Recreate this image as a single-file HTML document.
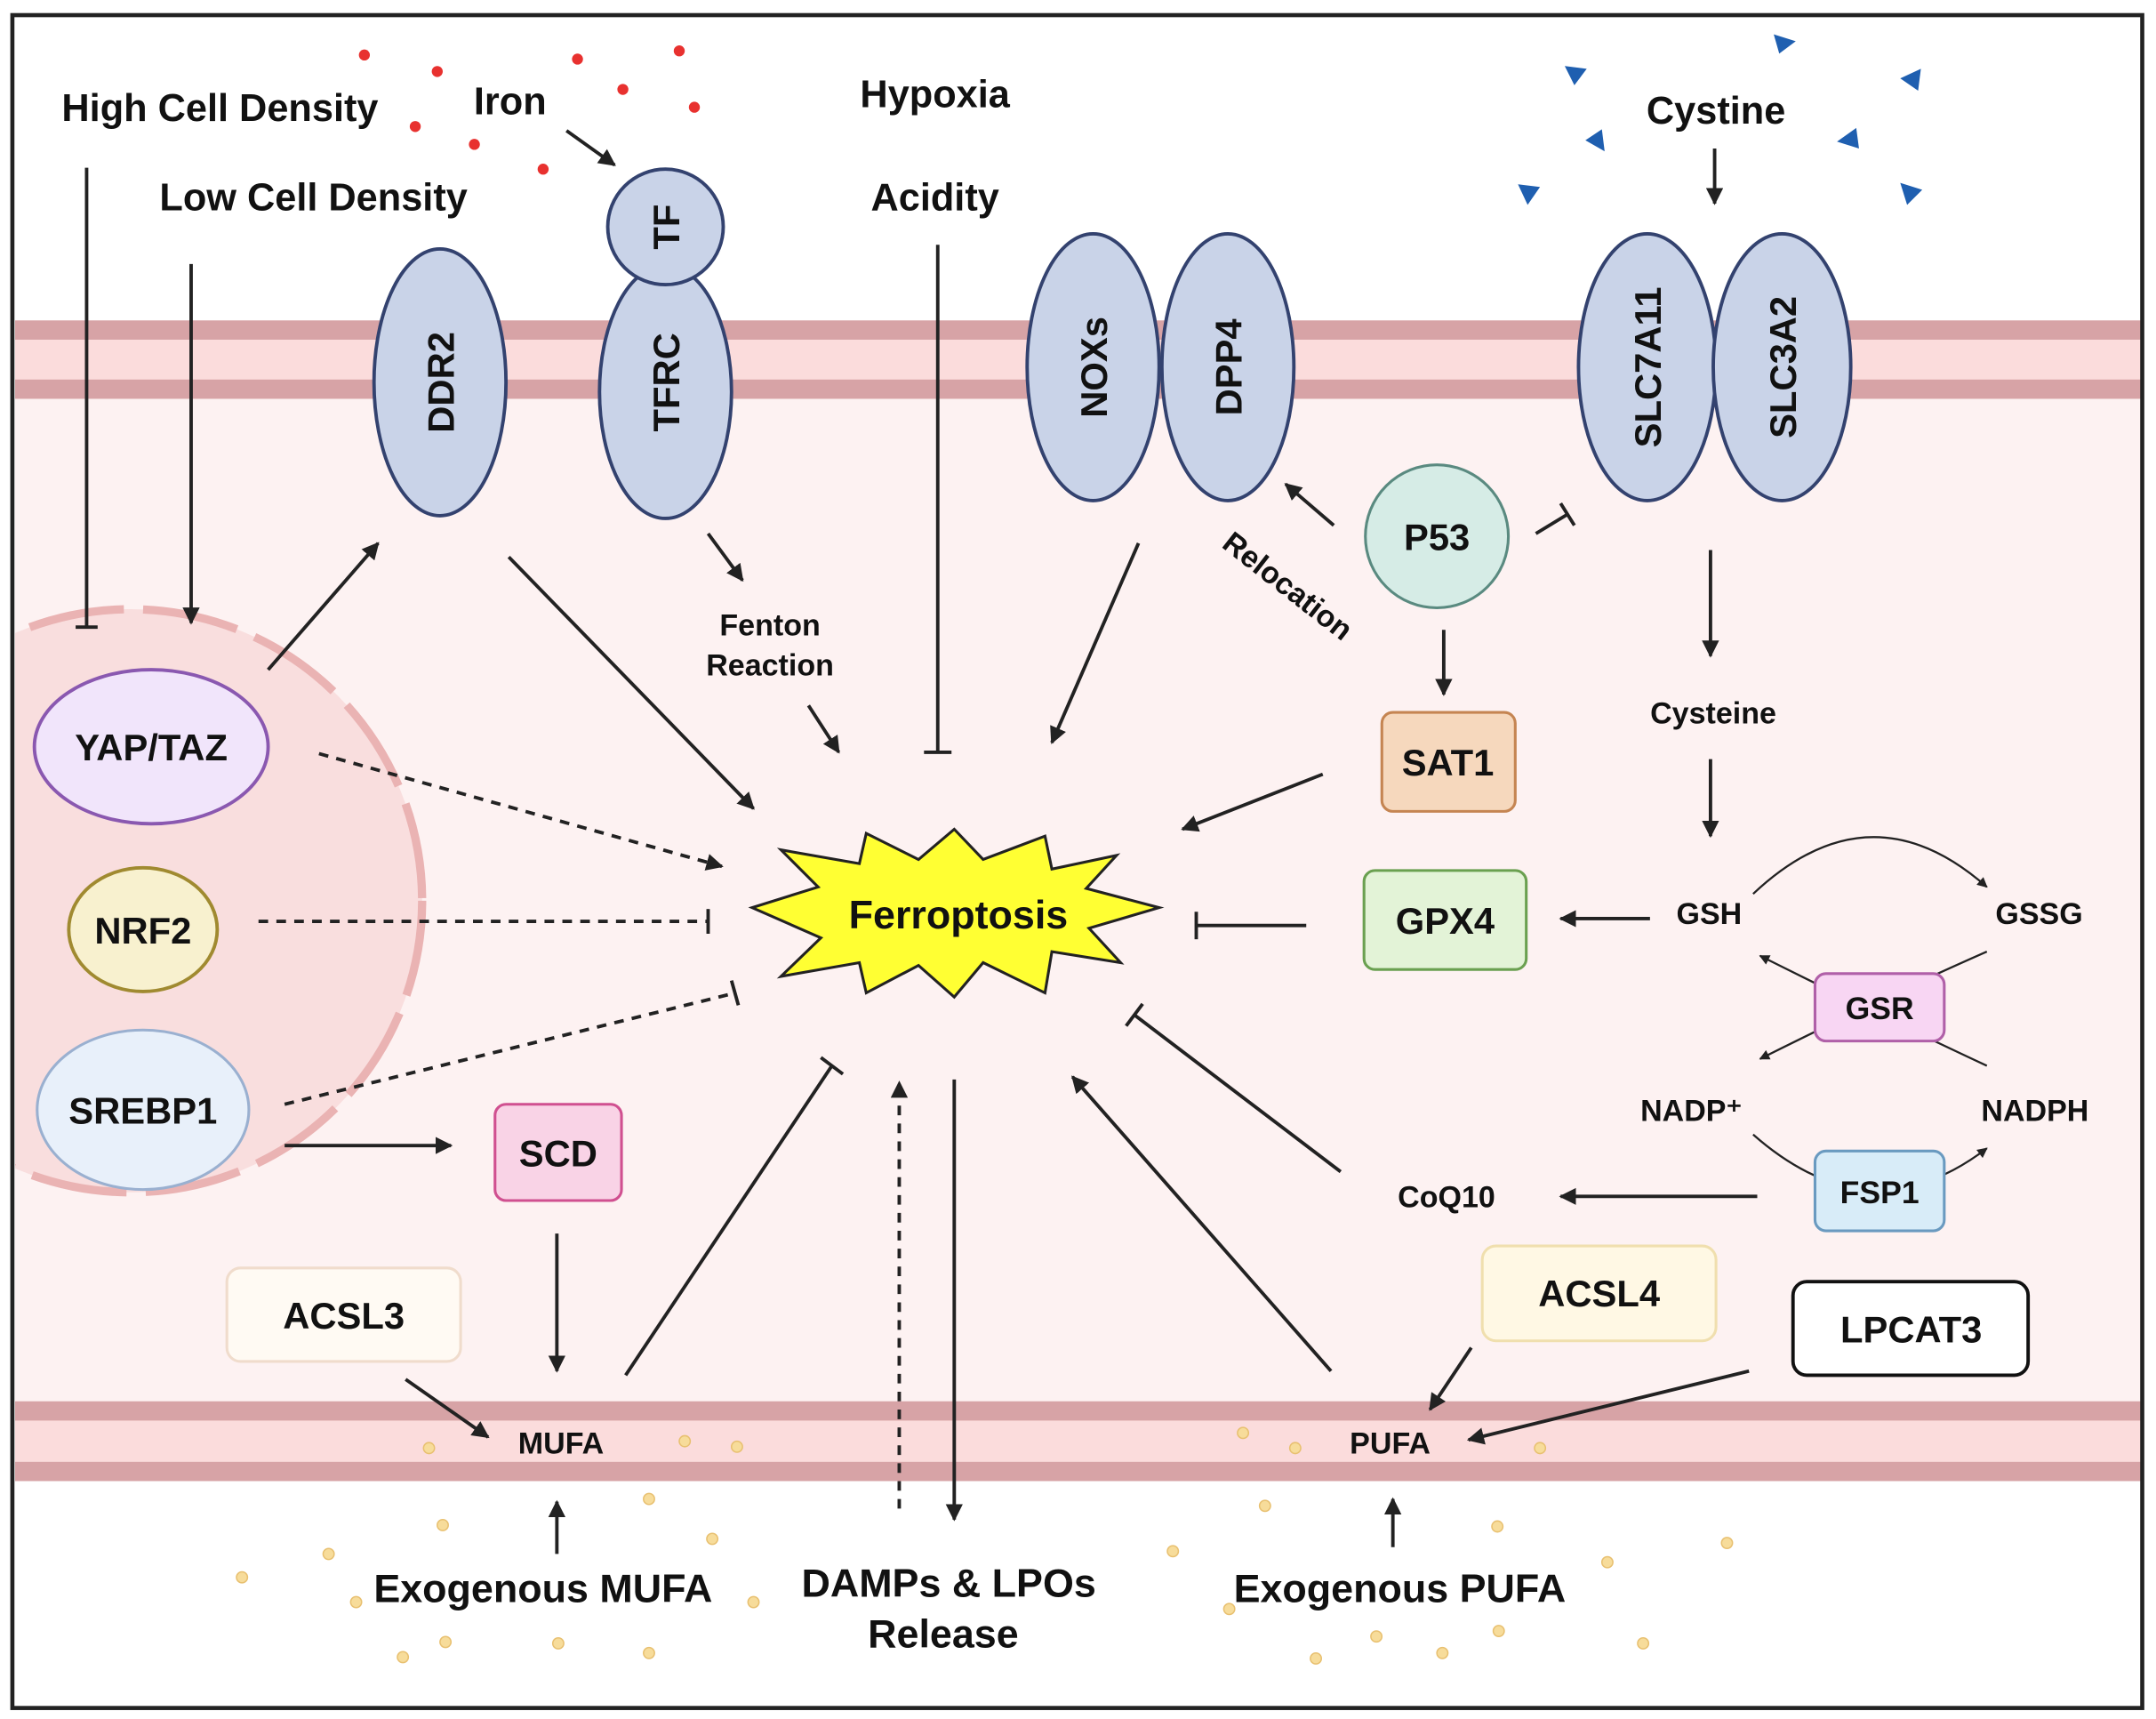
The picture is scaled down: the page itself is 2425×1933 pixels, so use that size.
<!DOCTYPE html>
<html><head><meta charset="utf-8"><style>
html,body{margin:0;padding:0;background:#fff;}
svg{display:block;}
text{font-family:"Liberation Sans",sans-serif;font-weight:bold;fill:#111;}
</style></head><body>
<svg width="2425" height="1933" viewBox="0 0 1568 1250" preserveAspectRatio="none" xmlns="http://www.w3.org/2000/svg">
<defs>
<marker id="a" viewBox="0 0 10 10" refX="9" refY="5" markerWidth="5" markerHeight="5" orient="auto-start-reverse"><path d="M0,0 L10,5 L0,10 z" fill="#222"/></marker>
<clipPath id="c"><rect x="11" y="13" width="1545" height="1227"/></clipPath>
</defs>
<rect x="0" y="0" width="1568" height="1250" fill="#fff"/>
<rect x="11" y="290" width="1546" height="730" fill="#fdf2f2"/>
<g>
<rect x="11" y="233" width="1546" height="57" fill="#fbdcdc"/>
<rect x="11" y="233" width="1546" height="14" fill="#d7a3a6"/>
<rect x="11" y="276" width="1546" height="14" fill="#d7a3a6"/>
<rect x="11" y="1019" width="1546" height="58" fill="#fbdcdc"/>
<rect x="11" y="1019" width="1546" height="14" fill="#d7a3a6"/>
<rect x="11" y="1063" width="1546" height="14" fill="#d7a3a6"/>
</g>
<g clip-path="url(#c)">
<circle cx="95" cy="655" r="212" fill="#f9dede" stroke="#eab3b3" stroke-width="6" stroke-dasharray="70 14"/>
</g>
<rect x="9" y="11" width="1549" height="1231" fill="none" stroke="#222" stroke-width="3"/>
<g fill="#e8312f">
<circle cx="265" cy="40" r="4"/><circle cx="318" cy="52" r="4"/><circle cx="420" cy="43" r="4"/><circle cx="494" cy="37" r="4"/><circle cx="453" cy="65" r="4"/><circle cx="505" cy="78" r="4"/><circle cx="302" cy="92" r="4"/><circle cx="345" cy="105" r="4"/><circle cx="395" cy="123" r="4"/>
</g>
<g fill="#1f5fb0">
<path d="M1138,48 l16,2 -9,12z"/><path d="M1290,25 l16,5 -12,9z"/><path d="M1397,50 l-2,16 -13,-9z"/><path d="M1165,94 l2,16 -14,-8z"/><path d="M1350,93 l2,15 -16,-5z"/><path d="M1104,134 l16,2 -9,13z"/><path d="M1382,133 l16,5 -11,11z"/>
</g>
<g fill="#f7dc9a" stroke="#e8c070" stroke-width="1">
<circle cx="312" cy="1053" r="4"/><circle cx="498" cy="1048" r="4"/><circle cx="536" cy="1052" r="4"/><circle cx="472" cy="1090" r="4"/><circle cx="322" cy="1109" r="4"/><circle cx="518" cy="1119" r="4"/><circle cx="239" cy="1130" r="4"/><circle cx="176" cy="1147" r="4"/><circle cx="259" cy="1165" r="4"/><circle cx="548" cy="1165" r="4"/><circle cx="324" cy="1194" r="4"/><circle cx="406" cy="1195" r="4"/><circle cx="293" cy="1205" r="4"/><circle cx="472" cy="1202" r="4"/>
<circle cx="904" cy="1042" r="4"/><circle cx="942" cy="1053" r="4"/><circle cx="1120" cy="1053" r="4"/><circle cx="920" cy="1095" r="4"/><circle cx="1089" cy="1110" r="4"/><circle cx="853" cy="1128" r="4"/><circle cx="1256" cy="1122" r="4"/><circle cx="1169" cy="1136" r="4"/><circle cx="894" cy="1170" r="4"/><circle cx="1001" cy="1190" r="4"/><circle cx="1090" cy="1186" r="4"/><circle cx="1195" cy="1195" r="4"/><circle cx="957" cy="1206" r="4"/><circle cx="1049" cy="1202" r="4"/>
</g>
<!-- connectors -->
<g stroke="#222" stroke-width="2.5" fill="none">
<line x1="63" y1="122" x2="63" y2="456"/><line x1="55" y1="456" x2="71" y2="456"/>
<line x1="139" y1="192" x2="139" y2="453" marker-end="url(#a)"/>
<line x1="195" y1="487" x2="275" y2="395" marker-end="url(#a)"/>
<line x1="412" y1="95" x2="447" y2="120" marker-end="url(#a)"/>
<line x1="370" y1="405" x2="548" y2="588" marker-end="url(#a)"/>
<line x1="515" y1="388" x2="540" y2="422" marker-end="url(#a)"/>
<line x1="588" y1="513" x2="610" y2="547" marker-end="url(#a)"/>
<line x1="682" y1="178" x2="682" y2="547"/><line x1="672" y1="547" x2="692" y2="547"/>
<line x1="828" y1="395" x2="765" y2="540" marker-end="url(#a)"/>
<line x1="970" y1="382" x2="935" y2="352" marker-end="url(#a)"/>
<line x1="1117" y1="388" x2="1140" y2="374"/><line x1="1135" y1="366" x2="1145" y2="382"/>
<line x1="1050" y1="458" x2="1050" y2="505" marker-end="url(#a)"/>
<line x1="962" y1="563" x2="860" y2="603" marker-end="url(#a)"/>
<line x1="950" y1="673" x2="870" y2="673"/><line x1="870" y1="663" x2="870" y2="683"/>
<line x1="1200" y1="668" x2="1135" y2="668" marker-end="url(#a)"/>
<line x1="1247" y1="108" x2="1247" y2="148" marker-end="url(#a)"/>
<line x1="1244" y1="400" x2="1244" y2="477" marker-end="url(#a)"/>
<line x1="1244" y1="552" x2="1244" y2="608" marker-end="url(#a)"/>
<line x1="1278" y1="870" x2="1135" y2="870" marker-end="url(#a)"/>
<line x1="975" y1="852" x2="825" y2="738"/><line x1="819" y1="746" x2="831" y2="730"/>
<line x1="968" y1="997" x2="780" y2="783" marker-end="url(#a)"/>
<line x1="1070" y1="980" x2="1040" y2="1025" marker-end="url(#a)"/>
<line x1="1272" y1="997" x2="1068" y2="1047" marker-end="url(#a)"/>
<line x1="1013" y1="1125" x2="1013" y2="1090" marker-end="url(#a)"/>
<line x1="455" y1="1000" x2="605" y2="775"/><line x1="597" y1="769" x2="613" y2="781"/>
<line x1="405" y1="897" x2="405" y2="997" marker-end="url(#a)"/>
<line x1="295" y1="1003" x2="355" y2="1045" marker-end="url(#a)"/>
<line x1="405" y1="1130" x2="405" y2="1092" marker-end="url(#a)"/>
<line x1="654" y1="1097" x2="654" y2="787" stroke-dasharray="7 6" marker-end="url(#a)"/>
<line x1="694" y1="785" x2="694" y2="1105" marker-end="url(#a)"/>
<line x1="232" y1="548" x2="525" y2="630" stroke-dasharray="7 6" marker-end="url(#a)"/>
<line x1="188" y1="670" x2="515" y2="670" stroke-dasharray="7 6"/><line x1="515" y1="661" x2="515" y2="679"/>
<line x1="207" y1="803" x2="535" y2="722" stroke-dasharray="7 6"/><line x1="532" y1="713" x2="537" y2="731"/>
<line x1="207" y1="833" x2="328" y2="833" marker-end="url(#a)"/>
<path d="M1275,650 Q1360,570 1445,645" stroke-width="1.5" marker-end="url(#a)"/>
<path d="M1445,692 Q1370,725 1280,770" stroke-width="1.5" marker-end="url(#a)"/>
<path d="M1445,775 Q1370,740 1280,695" stroke-width="1.5" marker-end="url(#a)"/>
<path d="M1275,825 Q1360,900 1445,835" stroke-width="1.5" marker-end="url(#a)"/>
</g>
<!-- membrane proteins -->
<g fill="#c9d3e8" stroke="#33426f" stroke-width="2.5">
<ellipse cx="320" cy="278" rx="48" ry="97"/>
<ellipse cx="484" cy="285" rx="48" ry="92"/>
<circle cx="484" cy="165" r="42"/>
<ellipse cx="795" cy="267" rx="48" ry="97"/>
<ellipse cx="893" cy="267" rx="48" ry="97"/>
<ellipse cx="1198" cy="267" rx="50" ry="97"/>
<ellipse cx="1296" cy="267" rx="50" ry="97"/>
</g>
<g font-size="27">
<text transform="translate(330,278) rotate(-90)" text-anchor="middle">DDR2</text>
<text transform="translate(494,278) rotate(-90)" text-anchor="middle">TFRC</text>
<text transform="translate(494,165) rotate(-90)" text-anchor="middle">TF</text>
<text transform="translate(805,267) rotate(-90)" text-anchor="middle">NOXs</text>
<text transform="translate(903,267) rotate(-90)" text-anchor="middle">DPP4</text>
<text transform="translate(1208,267) rotate(-90)" text-anchor="middle">SLC7A11</text>
<text transform="translate(1306,267) rotate(-90)" text-anchor="middle">SLC3A2</text>
</g>
<circle cx="1045" cy="390" r="52" fill="#d6ece6" stroke="#5a8a80" stroke-width="2"/>
<rect x="1005" y="518" width="97" height="72" rx="8" fill="#f6d8bd" stroke="#c58552" stroke-width="2"/>
<rect x="992" y="633" width="118" height="72" rx="8" fill="#e3f3d7" stroke="#6aa050" stroke-width="2"/>
<rect x="1320" y="708" width="94" height="49" rx="8" fill="#f8d6f3" stroke="#b060a8" stroke-width="2"/>
<rect x="1320" y="837" width="94" height="58" rx="8" fill="#d8ecf8" stroke="#6a9ac0" stroke-width="2"/>
<rect x="360" y="803" width="92" height="70" rx="8" fill="#f9d3e6" stroke="#d05090" stroke-width="2"/>
<rect x="165" y="922" width="170" height="68" rx="10" fill="#fffaf3" stroke="#f0dccc" stroke-width="2"/>
<rect x="1078" y="906" width="170" height="69" rx="10" fill="#fff8e4" stroke="#f0dfae" stroke-width="2"/>
<rect x="1304" y="932" width="171" height="68" rx="10" fill="#fff" stroke="#111" stroke-width="2.5"/>
<ellipse cx="110" cy="543" rx="85" ry="56" fill="#f1e5fb" stroke="#8a58b0" stroke-width="2.5"/>
<ellipse cx="104" cy="676" rx="54" ry="45" fill="#f8f1cf" stroke="#a08a30" stroke-width="2.5"/>
<ellipse cx="104" cy="807" rx="77" ry="58" fill="#e8f0fa" stroke="#9ab0d0" stroke-width="2"/>
<polygon fill="#ffff33" stroke="#222" stroke-width="2" points="547,660 595,645 568,618 625,628 630,606 668,625 694,603 715,625 760,608 765,632 812,622 790,646 843,660 792,675 815,700 765,692 760,722 715,700 694,725 668,702 630,722 625,700 568,710 597,682"/>
<g font-size="27" text-anchor="middle">
<text x="697" y="675" font-size="29">Ferroptosis</text>
<text x="1045" y="400">P53</text>
<text x="1053" y="564">SAT1</text>
<text x="1051" y="679">GPX4</text>
<text x="1367" y="741" font-size="23">GSR</text>
<text x="1367" y="875" font-size="23">FSP1</text>
<text x="406" y="848">SCD</text>
<text x="250" y="966">ACSL3</text>
<text x="1163" y="950">ACSL4</text>
<text x="1390" y="976">LPCAT3</text>
<text x="110" y="553">YAP/TAZ</text>
<text x="104" y="686">NRF2</text>
<text x="104" y="817">SREBP1</text>
<text x="160" y="88" font-size="28">High Cell Density</text>
<text x="228" y="153" font-size="28">Low Cell Density</text>
<text x="371" y="83" font-size="28">Iron</text>
<text x="680" y="78" font-size="28">Hypoxia</text>
<text x="680" y="153" font-size="28">Acidity</text>
<text x="1248" y="90" font-size="28">Cystine</text>
<text x="560" y="462" font-size="22">Fenton</text>
<text x="560" y="491" font-size="22">Reaction</text>
<text x="1246" y="526" font-size="22">Cysteine</text>
<text x="1243" y="672" font-size="22">GSH</text>
<text x="1483" y="672" font-size="22">GSSG</text>
<text x="1230" y="815" font-size="22">NADP⁺</text>
<text x="1480" y="815" font-size="22">NADPH</text>
<text x="1052" y="878" font-size="22">CoQ10</text>
<text x="408" y="1057" font-size="22">MUFA</text>
<text x="1011" y="1057" font-size="22">PUFA</text>
<text x="395" y="1165" font-size="29">Exogenous MUFA</text>
<text x="1018" y="1165" font-size="29">Exogenous PUFA</text>
<text x="690" y="1161" font-size="29">DAMPs &amp; LPOs</text>
<text x="686" y="1198" font-size="29">Release</text>
<text transform="translate(932,432) rotate(38)" font-size="22">Relocation</text>
</g>
</svg>
</body></html>
